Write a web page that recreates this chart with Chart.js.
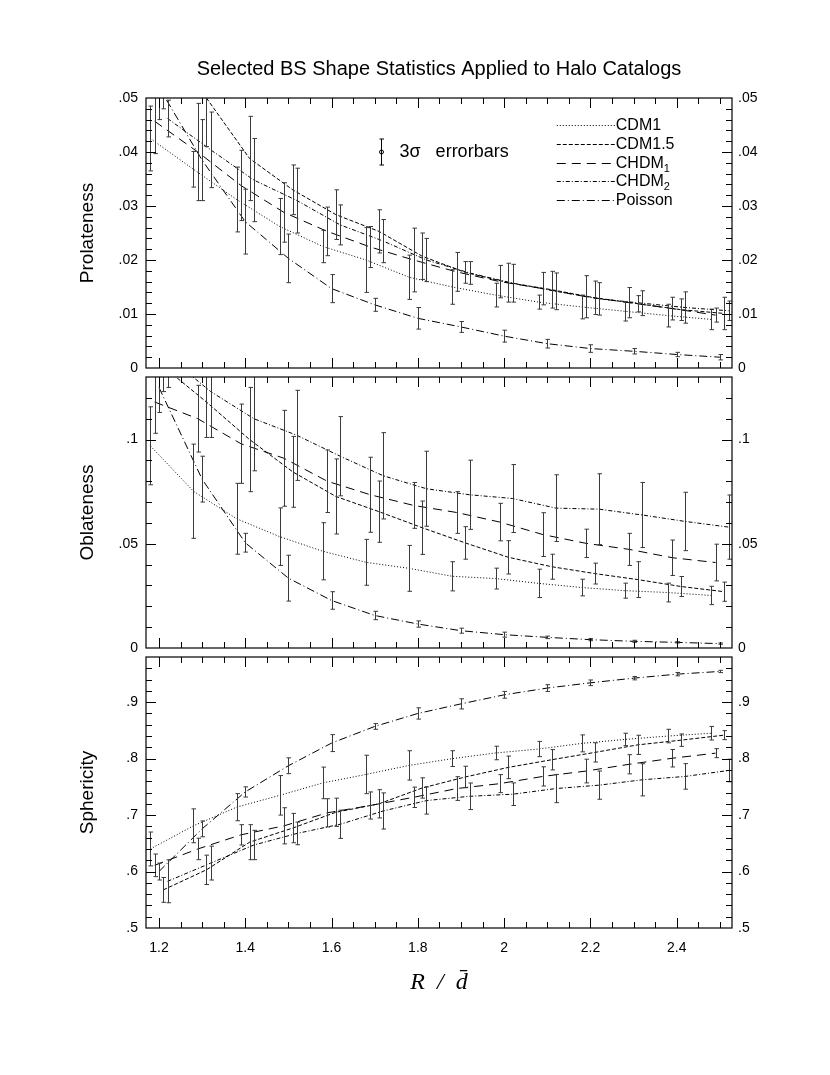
<!DOCTYPE html>
<html lang="en">
<head>
<meta charset="UTF-8">
<title>Selected BS Shape Statistics Applied to Halo Catalogs</title>
<script src="https://cdn.jsdelivr.net/npm/chart.js"></script>
<style>
    body { margin: 0; background: #fff; }
    #wrap { position: relative; width: 830px; height: 1075px; }
    #wrap canvas { position: absolute; left: 0; top: 0; }
</style>
</head>
<body>
<div id="wrap">
    <canvas id="prol" width="830" height="1075"></canvas>
    <canvas id="obl" width="830" height="1075"></canvas>
    <canvas id="sph" width="830" height="1075"></canvas>
</div>
<script>
// R / d values where the statistics were measured
const rValues = [1.2, 1.3, 1.4, 1.5, 1.6, 1.7, 1.8, 1.9, 2.0, 2.1, 2.2, 2.3, 2.4, 2.5];
const seriesNames = ['CDM1', 'CDM1.5', 'CHDM1', 'CHDM2', 'Poisson'];

// tick labels
const xTicks = [1.2, 1.4, 1.6, 1.8, 2.0, 2.2, 2.4];
const prolTicks = [0, 0.01, 0.02, 0.03, 0.04, 0.05];
const oblTicks = [0, 0.05, 0.1];
const sphTicks = [0.5, 0.6, 0.7, 0.8, 0.9];

// Prolateness (value, 3 sigma half width)
const prolCDM1    = [.0425, .0368, .0312, .0262, .0225, .0200, .0168, .0150, .0135, .0122, .0113, .0105, .0097, .0090];
const prolCDM1e   = [.0060, .0033, .0060, .0052, .0030, .0060, .0041, .0032, .0022, .0013, .0022, .0018, .0021, .0019];
const prolCDM15   = [.0560, .0500, .0388, .0330, .0284, .0253, .0207, .0177, .0158, .0145, .0130, .0119, .0108, .0101];
const prolCDM15e  = [.0080, .0090, .0078, .0046, .0046, .0040, .0043, .0020, .0036, .0034, .0031, .0015, .0020, .0030];
const prolCHDM1   = [.0457, .0400, .0338, .0288, .0253, .0224, .0200, .0178, .0160, .0147, .0132, .0121, .0110, .0098];
const prolCHDM1e  = [.0060, .0090, .0065, .0055, .0045, .0038, .0059, .0036, .0030, .0030, .0039, .0028, .0021, .0013];
const prolCHDM2   = [.0462, .0404, .0348, .0310, .0265, .0235, .0200, .0176, .0157, .0142, .0128, .0120, .0112, .0106];
const prolCHDM2e  = [.0034, .0070, .0077, .0060, .0037, .0040, .0040, .0021, .0035, .0034, .0030, .0023, .0029, .0018];
const prolPois    = [.0520, .0385, .0271, .0203, .0147, .0117, .0092, .0076, .0059, .0045, .0036, .0031, .0025, .0020];
const prolPoise   = [.0060, .0075, .0060, .0045, .0026, .0012, .0020, .0010, .0011, .0008, .0007, .0005, .0004, .0005];

// Oblateness
const oblCDM1     = [.0970, .0752, .0620, .0534, .0464, .0411, .0382, .0344, .0333, .0310, .0290, .0275, .0266, .0252];
const oblCDM1e    = [.0187, .0226, .0170, .0138, .0137, .0110, .0110, .0070, .0050, .0068, .0040, .0036, .0045, .0044];
const oblCDM15    = [.1350, .1180, .1000, .0845, .0727, .0654, .0577, .0504, .0435, .0390, .0357, .0328, .0295, .0270];
const oblCDM15e   = [.0120, .0170, .0250, .0170, .0180, .0147, .0128, .0078, .0080, .0060, .0050, .0086, .0048, .0046];
const oblCHDM1    = [.1180, .1100, .0980, .0910, .0800, .0735, .0684, .0650, .0604, .0544, .0502, .0473, .0433, .0410];
const oblCHDM1e   = [.0150, .0160, .0190, .0230, .0150, .0180, .0110, .0100, .0090, .0105, .0068, .0077, .0085, .0088];
const oblCHDM2    = [.1400, .1230, .1100, .1020, .0920, .0826, .0764, .0735, .0717, .0671, .0666, .0638, .0607, .0580];
const oblCHDM2e   = [.0150, .0220, .0250, .0216, .0190, .0207, .0180, .0166, .0163, .0160, .0170, .0156, .0140, .0154];
const oblPois     = [.1250, .0810, .0505, .0335, .0228, .0156, .0115, .0083, .0064, .0051, .0040, .0032, .0027, .0021];
const oblPoise    = [.0120, .0110, .0045, .0110, .0042, .0020, .0015, .0012, .0012, .0006, .0005, .0005, .0003, .0003];

// Sphericity
const sphCDM1     = [.640, .681, .714, .735, .757, .772, .788, .800, .810, .817, .827, .834, .840, .845];
const sphCDM1e    = [.030, .030, .024, .035, .028, .034, .026, .014, .012, .0135, .015, .011, .012, .012];
const sphCDM15    = [.5675, .603, .652, .677, .705, .720, .748, .7675, .7845, .798, .811, .8244, .8327, .8416];
const sphCDM15e   = [.022, .026, .031, .026, .025, .025, .018, .019, .020, .018, .017, .017, .011, .008];
const sphCHDM1    = [.611, .640, .665, .681, .704, .717, .7315, .747, .7557, .7685, .778, .790, .8007, .8097];
const sphCHDM1e   = [.020, .019, .018, .032, .025, .024, .018, .021, .016, .017, .021, .017, .0155, .008];
const sphCHDM2    = [.5827, .615, .647, .6675, .6837, .7073, .7257, .7333, .737, .747, .753, .7625, .7685, .779];
const sphCHDM2e   = [.038, .030, .026, .020, .025, .032, .024, .0235, .020, .025, .025, .0285, .0226, .020];
const sphPois     = [.600, .6756, .741, .7874, .8275, .857, .880, .897, .913, .925, .9343, .9425, .9496, .9544];
const sphPoise    = [.015, .014, .009, .014, .015, .005, .010, .009, .006, .006, .005, .003, .003, .002];

// styles: small sideways shift so the error bars of the models don't overlap
const seriesShift = [-0.02, 0.01, -0.01, 0.02, 0];
const seriesDash = [[1, 2], [4, 2], [9, 6], [4, 2, 1, 2], [8, 3, 1, 3]];

const FONT = '"Liberation Sans", Arial, Helvetica, sans-serif';
Chart.defaults.font.family = FONT;
Chart.defaults.color = '#000';

function fmtVal(v) {
    if (v === 0) return '0';
    return String(+v.toFixed(3)).replace(/^0\./, '.');
}

function buildSets(vals, errs) {
    return seriesNames.map((name, k) => ({
        label: name,
        data: rValues.map((r, i) => ({ x: r + seriesShift[k], y: vals[k][i] })),
        errors: errs[k],
        borderColor: '#000',
        borderWidth: 1,
        borderDash: seriesDash[k],
        pointRadius: 0,
        fill: false,
        tension: 0
    }));
}

// frame with inward ticks, error bars and the key of the top panel
const framePlugin = {
    id: 'frame',
    afterDatasetsDraw(chart, args, opts) {
        const ctx = chart.ctx;
        const a = chart.chartArea;
        const xs = chart.scales.x, ys = chart.scales.y;

        // error bars
        ctx.save();
        ctx.beginPath();
        ctx.rect(a.left, a.top, a.right - a.left, a.bottom - a.top);
        ctx.clip();
        ctx.strokeStyle = '#3a3a3a';
        ctx.lineWidth = 1;
        ctx.setLineDash([]);
        chart.data.datasets.forEach(ds => {
            ds.data.forEach((p, i) => {
                const e = ds.errors[i];
                const px = Math.round(xs.getPixelForValue(p.x)) + 0.5;
                const lo = ys.getPixelForValue(p.y - e);
                const hi = ys.getPixelForValue(p.y + e);
                ctx.beginPath();
                ctx.moveTo(px, lo); ctx.lineTo(px, hi);
                ctx.moveTo(px - 2, lo); ctx.lineTo(px + 2.5, lo);
                ctx.moveTo(px - 2, hi); ctx.lineTo(px + 2.5, hi);
                ctx.stroke();
            });
        });
        ctx.restore();

        // frame
        ctx.save();
        ctx.strokeStyle = '#000';
        ctx.lineWidth = 1.2;
        ctx.setLineDash([]);
        ctx.strokeRect(a.left, a.top, a.right - a.left, a.bottom - a.top);

        ctx.lineWidth = 1;
        const ticksOn = (scale, step, majors, draw) => {
            const first = Math.ceil(scale.min / step - 1e-6);
            const last = Math.floor(scale.max / step + 1e-6);
            for (let i = first; i <= last; i++) {
                const v = i * step;
                if (Math.abs(v - scale.min) < step / 10 || Math.abs(v - scale.max) < step / 10) continue;
                const major = majors.some(t => Math.abs(t - v) < step / 10);
                draw(scale.getPixelForValue(v), major ? 10 : 6);
            }
        };
        ctx.beginPath();
        ticksOn(xs, 0.05, xTicks, (px, len) => {
            px = Math.round(px) + 0.5;
            ctx.moveTo(px, a.bottom); ctx.lineTo(px, a.bottom - len);
            ctx.moveTo(px, a.top); ctx.lineTo(px, a.top + len);
        });
        ticksOn(ys, opts.yMinor, opts.yMajor, (py, len) => {
            py = Math.round(py) + 0.5;
            ctx.moveTo(a.left, py); ctx.lineTo(a.left + len, py);
            ctx.moveTo(a.right, py); ctx.lineTo(a.right - len, py);
        });
        ctx.stroke();

        if (opts.key) {
            const W = a.right - a.left, H = a.bottom - a.top;
            // 3 sigma error bar sample
            const ex = Math.round(a.left + 0.401 * W) + 0.5, ey = a.top + 0.2 * H;
            ctx.beginPath();
            ctx.moveTo(ex, ey - 13); ctx.lineTo(ex, ey + 13);
            ctx.moveTo(ex - 2, ey - 13); ctx.lineTo(ex + 2.5, ey - 13);
            ctx.moveTo(ex - 2, ey + 13); ctx.lineTo(ex + 2.5, ey + 13);
            ctx.stroke();
            ctx.beginPath();
            ctx.arc(ex, ey, 2, 0, Math.PI * 2);
            ctx.stroke();
            ctx.fillStyle = '#000';
            ctx.textBaseline = 'middle';
            ctx.textAlign = 'left';
            ctx.font = '18px ' + FONT;
            ctx.fillText('3\u03c3   errorbars', ex + 18, ey);

            // model key
            const x0 = a.left + 0.701 * W, x1 = a.left + 0.800 * W;
            seriesNames.forEach((name, k) => {
                const ly = Math.round(a.top + 0.1 * H + k * 18.8) + 0.5;
                ctx.beginPath();
                ctx.setLineDash(seriesDash[k]);
                ctx.moveTo(x0, ly); ctx.lineTo(x1, ly);
                ctx.stroke();
                ctx.setLineDash([]);
                const m = name.match(/^(CHDM)(\d)$/);
                ctx.font = '16px ' + FONT;
                if (m) {
                    ctx.fillText(m[1], x1 + 1, ly);
                    const w = ctx.measureText(m[1]).width;
                    ctx.font = '11px ' + FONT;
                    ctx.fillText(m[2], x1 + 1 + w, ly + 5);
                } else {
                    ctx.fillText(name, x1 + 1, ly);
                }
            });
        }
        ctx.restore();
    }
};

function makePanel(id, cfg) {
    const yTickSet = scale => { scale.ticks = cfg.ticks.map(v => ({ value: v })); };
    return new Chart(document.getElementById(id), {
        type: 'line',
        data: { datasets: buildSets(cfg.vals, cfg.errs) },
        options: {
            responsive: false,
            animation: false,
            events: [],
            layout: { padding: { left: 74, right: 0, top: cfg.top, bottom: cfg.bottom } },
            plugins: {
                legend: { display: false },
                tooltip: { enabled: false },
                title: cfg.title || { display: false },
                frame: { yMinor: cfg.minor, yMajor: cfg.ticks, key: !!cfg.key }
            },
            scales: {
                x: {
                    type: 'linear',
                    min: 1.17,
                    max: 2.528,
                    display: !!cfg.showX,
                    grid: { display: false, drawTicks: false },
                    border: { display: false },
                    afterBuildTicks: scale => { scale.ticks = xTicks.map(v => ({ value: v })); },
                    afterFit: scale => { if (cfg.showX) scale.height = 72; },
                    ticks: {
                        padding: 12,
                        autoSkip: false,
                        maxRotation: 0,
                        font: { size: 14 },
                        callback: v => String(+v.toFixed(2))
                    },
                    title: {
                        display: !!cfg.showX,
                        text: 'R  /  d\u0304',
                        font: { family: '"Liberation Serif", "DejaVu Serif", serif', size: 24, style: 'italic' },
                        padding: { top: 0, bottom: 3 }
                    }
                },
                y: {
                    type: 'linear',
                    position: 'left',
                    min: cfg.min,
                    max: cfg.max,
                    grid: { display: false, drawTicks: false },
                    border: { display: false },
                    afterBuildTicks: yTickSet,
                    afterFit: scale => { scale.width = 72; },
                    ticks: { padding: 8, font: { size: 14 }, callback: v => fmtVal(v) },
                    title: {
                        display: true,
                        text: cfg.label,
                        font: { size: 19 },
                        padding: { top: 2, bottom: 0 }
                    }
                },
                y2: {
                    type: 'linear',
                    position: 'right',
                    min: cfg.min,
                    max: cfg.max,
                    grid: { display: false, drawTicks: false },
                    border: { display: false },
                    afterBuildTicks: yTickSet,
                    afterFit: scale => { scale.width = 98; },
                    ticks: { padding: 6, font: { size: 14 }, callback: v => fmtVal(v) }
                }
            }
        },
        plugins: [framePlugin]
    });
}

makePanel('prol', {
    label: 'Prolateness',
    vals: [prolCDM1, prolCDM15, prolCHDM1, prolCHDM2, prolPois],
    errs: [prolCDM1e, prolCDM15e, prolCHDM1e, prolCHDM2e, prolPoise],
    min: 0, max: 0.05, ticks: prolTicks, minor: 0.002,
    top: 57, bottom: 707,
    key: true,
    title: {
        display: true,
        text: 'Selected BS Shape Statistics Applied to Halo Catalogs',
        fullSize: false,
        font: { size: 20, weight: 'normal' },
        color: '#000',
        padding: { top: 0, bottom: 17 }
    }
});

makePanel('obl', {
    label: 'Oblateness',
    vals: [oblCDM1, oblCDM15, oblCHDM1, oblCHDM2, oblPois],
    errs: [oblCDM1e, oblCDM15e, oblCHDM1e, oblCHDM2e, oblPoise],
    min: 0, max: 0.13, ticks: oblTicks, minor: 0.01,
    top: 377, bottom: 427
});

makePanel('sph', {
    label: 'Sphericity',
    vals: [sphCDM1, sphCDM15, sphCHDM1, sphCHDM2, sphPois],
    errs: [sphCDM1e, sphCDM15e, sphCHDM1e, sphCHDM2e, sphPoise],
    min: 0.5, max: 0.98, ticks: sphTicks, minor: 0.02,
    top: 657, bottom: 75,
    showX: true
});
</script>
</body>
</html>
